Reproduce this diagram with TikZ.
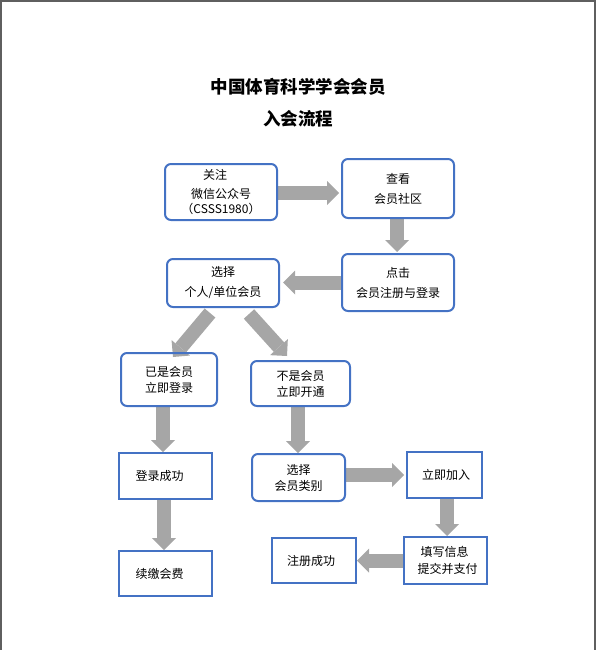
\documentclass[tikz,border=0pt]{standalone}
\usepackage{fontspec}
\setmainfont{Noto Sans CJK SC}
\usetikzlibrary{arrows.meta}
\pgfdeclarelayer{background}
\pgfsetlayers{background,main}
\definecolor{boxblue}{HTML}{4472C4}
\definecolor{arrowgray}{HTML}{A6A6A6}
\definecolor{framegray}{HTML}{5F5F5F}
\tikzset{
  rbox/.style={draw=boxblue, line width=2pt, rounded corners=6pt, align=center, inner sep=0pt,
    font=\fontsize{12}{20}\selectfont},
  sbox/.style={draw=boxblue, line width=2pt, align=center, inner sep=0pt,
    font=\fontsize{12}{16.5}\selectfont},
  tight/.style={font=\fontsize{12}{16}\selectfont},
  barrow/.style={draw=arrowgray, line width=14pt,
    -{Triangle[length=12pt,width=24pt,line width=0pt]}},
  titletext/.style={font=\fontsize{17.5}{20}\selectfont\bfseries}
}
\begin{document}
\begin{tikzpicture}[x=1pt,y=-1pt]
\useasboundingbox (0,0) rectangle (596,650);
\draw[framegray, line width=2pt] (1,650) -- (1,1) -- (595,1) -- (595,650);
\node[titletext] (t1) at (298,87) {中国体育科学学会会员};
\node[titletext] (t2) at (298,119) {入会流程};

\node[rbox, minimum width=112pt, minimum height=56pt] (n1) at (221,192)
  {\hspace*{-12pt}关注\\[-1pt]微信公众号\\[-5pt]（CSSS1980）};
\node[rbox, minimum width=112pt, minimum height=59pt] (n2) at (398,188.5) {查看\\会员社区};
\node[rbox, minimum width=112pt, minimum height=57pt] (n3) at (398,282.5) {点击\\会员注册与登录};
\node[rbox, minimum width=112pt, minimum height=48pt] (n4) at (223,283) {选择\\个人/单位会员};
\node[rbox, tight, minimum width=96pt, minimum height=53pt] (n5) at (169,379.5) {已是会员\\立即登录};
\node[rbox, tight, minimum width=99pt, minimum height=45pt] (n6) at (300.5,383.5) {不是会员\\立即开通};
\node[sbox, minimum width=93pt, minimum height=46pt] (n7) at (165.5,476) {登录成功\hspace*{12pt}};
\node[sbox, minimum width=93pt, minimum height=45pt] (n8) at (165.5,573.5) {续缴会费\hspace*{12pt}};
\node[rbox, tight, minimum width=93pt, minimum height=47pt] (n9) at (298.5,477.5) {选择\\会员类别};
\node[sbox, minimum width=75pt, minimum height=46pt] (n10) at (444.5,475) {\hspace*{3pt}立即加入};
\node[sbox, minimum width=83pt, minimum height=47pt] (n11) at (445.5,560.5) {填写信息\hspace*{2pt}\\\hspace*{4pt}提交并支付};
\node[sbox, minimum width=84pt, minimum height=45pt] (n12) at (314,560.5) {注册成功\hspace*{6pt}};

\coordinate (d1s) at (210,313);
\coordinate (d1e) at (173,357);
\coordinate (d2s) at (249,314);
\coordinate (d2e) at (287,356);

\begin{pgfonlayer}{background}
\draw[barrow, shorten >=2pt] ([yshift=-1pt]n1.east) -- ([yshift=-1pt]n1.east -| n2.west);
\draw[barrow, shorten >=1pt] ([xshift=-1pt]n2.south) -- ([xshift=-1pt]n3.north);
\draw[barrow, shorten >=3pt] (n3.west) -- (n3.west -| n4.east);
\draw[barrow] (d1s) -- (d1e);
\draw[barrow] (d2s) -- (d2e);
\draw[barrow] ([xshift=-6pt]n5.south) -- ([xshift=-2.5pt]n7.north);
\draw[barrow] ([xshift=-2.5pt]n6.south) -- ([xshift=-0.5pt]n9.north);
\draw[barrow] ([xshift=-1.5pt]n7.south) -- ([xshift=-1.5pt]n8.north);
\draw[barrow, shorten >=2pt] ([yshift=2.5pt]n9.east) -- (n10.west);
\draw[barrow] ([xshift=2.5pt]n10.south) -- ([xshift=1.5pt]n11.north);
\draw[barrow] (n11.west) -- (n11.west -| n12.east);
\end{pgfonlayer}
\end{tikzpicture}
\end{document}
